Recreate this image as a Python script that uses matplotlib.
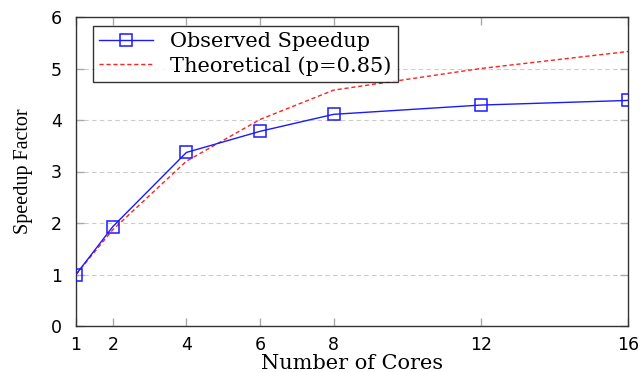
import matplotlib
matplotlib.use("Agg")
import matplotlib.pyplot as plt

cores = [1, 2, 4, 6, 8, 12, 16]
observed = [1.0, 1.93, 3.37, 3.78, 4.11, 4.29, 4.38]
theoretical = [1.0, 1.87, 3.2, 4.01, 4.58, 5.0, 5.33]
xticks = [1, 2, 4, 6, 8, 12, 16]
yticks = [0, 1, 2, 3, 4, 5, 6]

serif_wide = ["DejaVu Serif"]
serif = ["Liberation Serif", "DejaVu Serif"]
sans = ["DejaVu Sans"]

fig = plt.figure(figsize=(6.43, 3.72), dpi=100)
ax = fig.add_axes([76/643, 46/372, 552/643, 309/372])

ax.plot(cores, observed, color="#1a1aff", lw=1.0, marker="s", ms=9,
        mfc="none", mec="#1a1aff", mew=1.1, label="Observed Speedup", zorder=3)
ax.plot(cores, theoretical, color="#ff2020", lw=1.0, ls=(0, (3, 2)),
        label="Theoretical (p=0.85)", zorder=2)

ax.set_xlim(1, 16)
ax.set_ylim(0, 6)
ax.set_xticks(xticks)
ax.set_yticks(yticks)
ax.set_xticklabels([str(t) for t in xticks], family=sans, fontsize=12.5)
ax.set_yticklabels([str(t) for t in yticks], family=sans, fontsize=12.5)
ax.tick_params(direction="in", color="#aaaaaa", length=6, width=1,
               top=True, right=True)
ax.tick_params(axis="x", pad=7)
ax.tick_params(axis="y", pad=10)
ax.yaxis.grid(True, ls=(0, (4, 3)), color="#cccccc", lw=0.8)
ax.set_axisbelow(True)
for s in ax.spines.values():
    s.set_linewidth(1.0)
    s.set_color("#333333")

ax.set_xlabel("Number of Cores", family=serif_wide, fontsize=15, labelpad=0)
ax.set_ylabel("Speedup Factor", family=serif, fontsize=14.5, labelpad=13)

leg = ax.legend(loc="upper left", prop={"family": serif_wide, "size": 15},
                frameon=True, fancybox=False, edgecolor="black",
                borderpad=0.3, handlelength=2.6, labelspacing=0.22,
                handletextpad=0.8, borderaxespad=0,
                bbox_to_anchor=(17/552, 1 - 9/309))
leg.get_frame().set_linewidth(1.0)

fig.savefig("out.png", dpi=100)
